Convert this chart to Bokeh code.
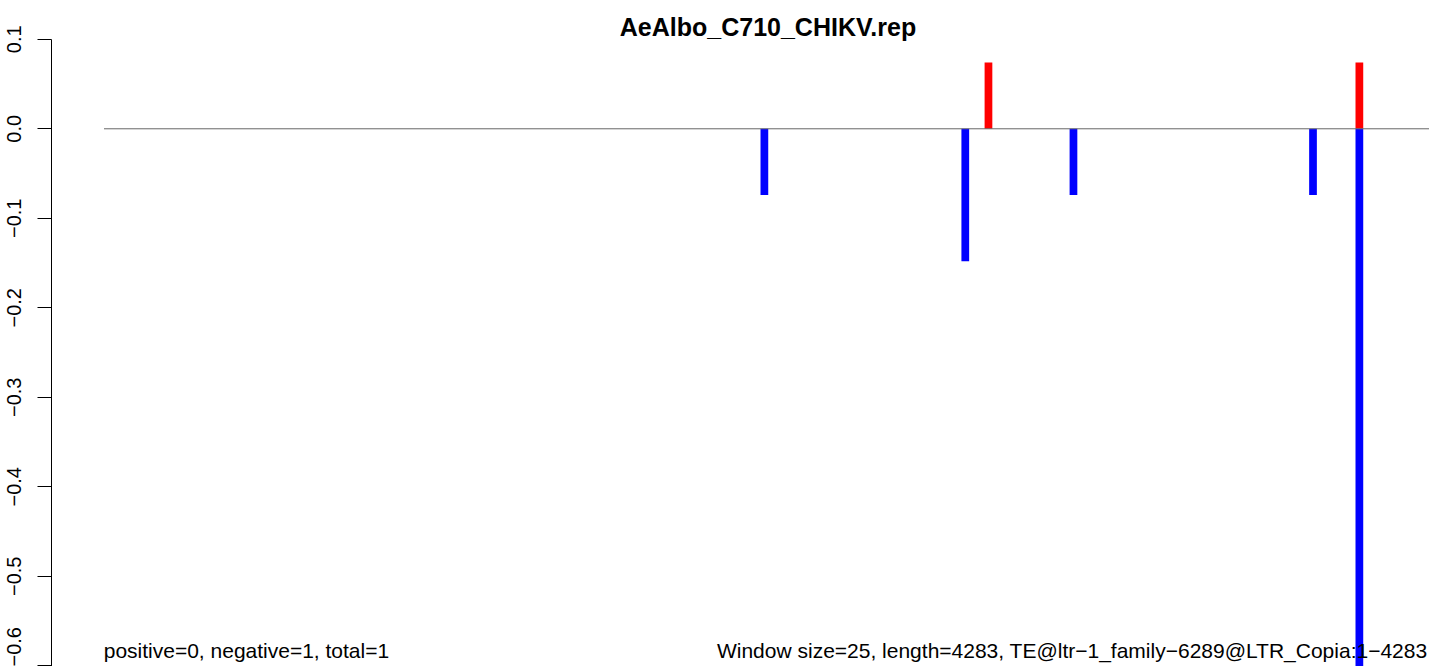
from bokeh.plotting import figure
from bokeh.models import Range1d, LinearAxis, FixedTicker, CustomJSTickFormatter
from bokeh.core.properties import value
from bokeh.embed import file_html
from bokeh.resources import INLINE

# ---- data ----
title_text = "AeAlbo_C710_CHIKV.rep"
window_size = 25
seq_length = 4283
left_note = "positive=0, negative=1, total=1"
right_note = "Window size=25, length=4283, TE@ltr\u22121_family\u22126289@LTR_Copia:1\u22124283"

pos_starts = [2850, 4050]
pos_values = [0.074, 0.074]
neg_starts = [2125, 2775, 3125, 3900, 4050]
neg_values = [-0.074, -0.148, -0.074, -0.074, -0.67]

y_ticks = [0.1, 0.0, -0.1, -0.2, -0.3, -0.4, -0.5, -0.6]

# ---- figure ----
p = figure(width=1429, height=666, output_backend="svg", toolbar_location=None,
           x_range=Range1d(-333.9, 4289.4), y_range=Range1d(-0.6008, 0.14335),
           x_axis_location=None, y_axis_location=None,
           min_border_left=0, min_border_right=0, min_border_bottom=0, min_border_top=0)
p.outline_line_color = None
p.grid.visible = False
p.background_fill_color = "white"
p.border_fill_color = "white"

yaxis = LinearAxis(ticker=FixedTicker(ticks=y_ticks), fixed_location=-169, bounds=(-0.7, 0.1))
yaxis.formatter = CustomJSTickFormatter(code="return tick.toFixed(1).replace('-', '\\u2212');")
yaxis.major_label_orientation = "vertical"
yaxis.major_label_text_font = "Liberation Sans"
yaxis.major_label_text_font_size = "20px"
yaxis.major_label_text_color = "black"
yaxis.major_label_standoff = 16
yaxis.major_tick_out = 14
yaxis.major_tick_in = 0
yaxis.minor_tick_out = 0
yaxis.minor_tick_in = 0
yaxis.axis_line_color = "black"
yaxis.axis_line_width = 1
yaxis.major_tick_line_color = "black"
p.add_layout(yaxis, "left")

p.quad(left=pos_starts, right=[s + window_size for s in pos_starts],
       bottom=0, top=pos_values, fill_color="#FF0000", line_color=None)
p.quad(left=neg_starts, right=[s + window_size for s in neg_starts],
       bottom=neg_values, top=0, fill_color="#0000FF", line_color=None)

p.segment(x0=[1], y0=[0], x1=[4300], y1=[0], line_color="#666666", line_width=1)

# title (centred over the R plot region)
p.text(x=[2149.2], y=[0.1140], text=[title_text], text_font=value("Liberation Sans"),
       text_font_size="25px", text_font_style="bold", text_color="black",
       text_align="center", text_baseline="middle")

p.text(x=[0], y=[-0.5829], text=[left_note], text_font=value("Liberation Sans"),
       text_font_size="21px", text_color="black", text_align="left", text_baseline="middle")
p.text(x=[seq_length], y=[-0.5829], text=[right_note], text_font=value("Liberation Sans"),
       text_font_size="21px", text_color="black", text_align="right", text_baseline="middle")

open("out.html", "w").write(file_html(p, INLINE))
